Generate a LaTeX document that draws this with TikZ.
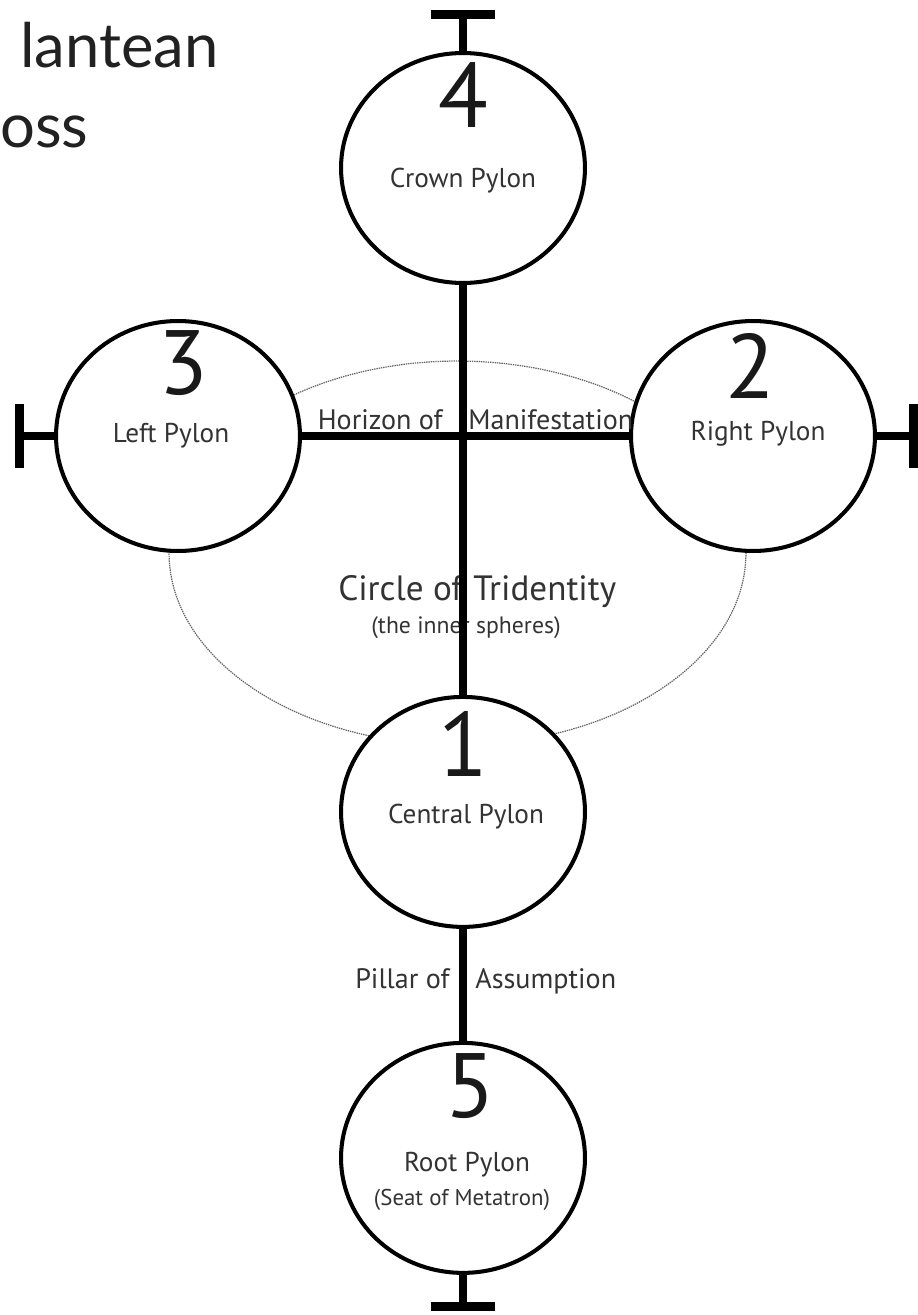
\documentclass[tikz,border=0pt]{standalone}
\usepackage{fontspec}
\setmainfont{PT Sans}
\newfontfamily\titlefont{Lato}
\usepackage{tikz}
\usetikzlibrary{positioning}
\usetikzlibrary{calc}
\usetikzlibrary{arrows.meta}
\usetikzlibrary{shapes.geometric}

\tikzset{
	pylon/.style={
		draw,
		ellipse,
		fill=white,
		line width=2.3pt,
		inner sep=0pt,
		minimum width=4.88cm,
		minimum height=4.6cm
	},
	axis/.style={line width=4.5pt},
	number/.style={font=\fontsize{52}{52}\selectfont, text=black!90, inner sep=0pt},
	caption/.style={font=\fontsize{15.5}{17}\selectfont, text=black!80, inner sep=0pt},
	tridentity/.style={draw=black!60, line width=0.7pt, dash pattern=on 0.8pt off 0.5pt}
}

\begin{document}
\begin{tikzpicture}[x=0.02cm, y=-0.02cm]

\useasboundingbox (0,0) rectangle (917,1315);
\fill[white] (0,0) rectangle (917,1315);

% title, cut off at the left edge
\node[
	anchor=base west,
	inner sep=0pt,
	font=\titlefont\fontsize{35}{38}\selectfont,
	text=black!87
] (titleA) at (20,67) {lantean};

\node[
	anchor=base west,
	inner sep=0pt,
	font=\titlefont\fontsize{35}{38}\selectfont,
	text=black!87
] (titleB) at (0,147) {oss};

% the inner spheres
\draw[tridentity] (457.5,553) ellipse [x radius=5.77cm, y radius=3.84cm];

\node[pylon] (crown) at (463,168) {};

\node[
	pylon,
	below=8.2cm of crown
] (central) {};

\node[
	pylon,
	below=2.24cm of central
] (root) {};

\node[pylon] (left) at (178,436) {};

\node[pylon] (right) at (753,436) {};

% ---

\node[number] (num4) at ($(crown)+(0,-73)$) {4};
\node[number] (num3) at ($(left)+(5,-73)$) {3};
\node[number] (num2) at ($(right)+(-3,-70)$) {2};
\node[number] (num1) at ($(central)+(0,-68)$) {1};
\node[number] (num5) at ($(root)+(7,-72)$) {5};

\node[caption, anchor=base] (crownText) at (463,187) {Crown Pylon};
\node[caption, anchor=base] (leftText) at (171,442) {Left Pylon};
\node[caption, anchor=base] (rightText) at (758,440) {Right Pylon};
\node[caption, anchor=base] (centralText) at (466,823) {Central Pylon};
\node[caption, anchor=base] (rootText) at (467,1171) {Root Pylon};
\node[
	caption,
	anchor=base,
	font=\fontsize{13}{15}\selectfont
] (rootSub) at (462,1205) {(Seat of Metatron)};

\node[
	caption,
	anchor=base east,
	font=\fontsize{16}{18}\selectfont
] (horizonA) at (443,429) {Horizon of};
\node[
	caption,
	anchor=base west,
	font=\fontsize{16}{18}\selectfont
] (horizonB) at (468,429) {Manifestation};

\node[
	caption,
	anchor=base east,
	font=\fontsize{20}{22}\selectfont
] (circleA) at (463,600) {Circle of};
\node[
	caption,
	anchor=base west,
	font=\fontsize{20}{22}\selectfont
] (circleB) at (473,600) {Tridentity};
\node[
	caption,
	anchor=base,
	font=\fontsize{13.5}{15}\selectfont
] (innerText) at (466,633) {(the inner spheres)};

\node[
	caption,
	anchor=base east,
	font=\fontsize{16}{18}\selectfont
] (pillarA) at (450,988) {Pillar of};
\node[
	caption,
	anchor=base west,
	font=\fontsize{16}{18}\selectfont
] (pillarB) at (475,988) {Assumption};

% ---

\coordinate (topEnd) at (463,10);
\coordinate (bottomEnd) at (463,1311);
\coordinate (leftEnd) at (15,436);
\coordinate (rightEnd) at (918,436);

\draw[axis] (crown.south) -- (central.north);
\draw[axis] (left.east) -- (right.west);
\draw[axis] (central.south) -- (root.north);

\draw[axis, -{Bar[width=1.3cm, line width=0.18cm]}] (crown.north) -- (topEnd);
\draw[axis, -{Bar[width=1.3cm, line width=0.18cm]}] (root.south) -- (bottomEnd);
\draw[axis, -{Bar[width=1.3cm, line width=0.18cm]}] (left.west) -- (leftEnd);
\draw[axis, -{Bar[width=1.3cm, line width=0.18cm]}] (right.east) -- (rightEnd);

\end{tikzpicture}
\end{document}
